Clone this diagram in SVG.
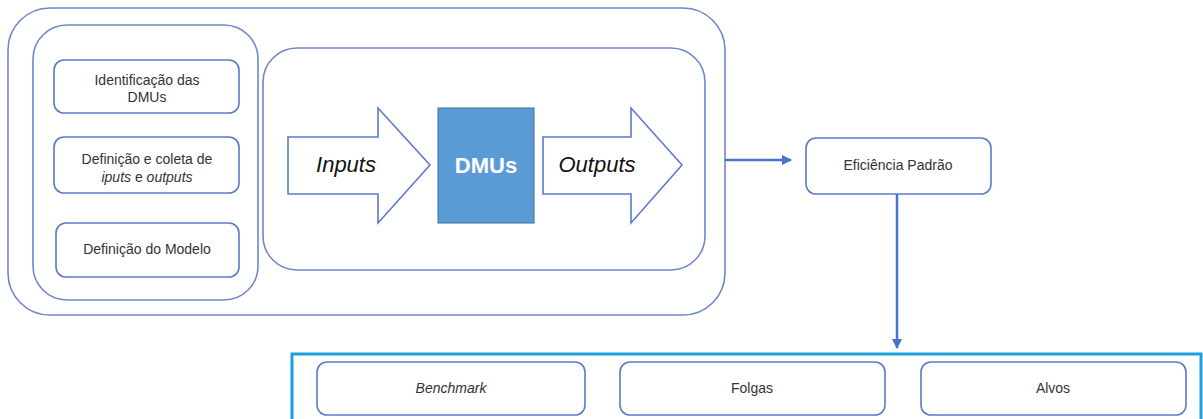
<svg xmlns="http://www.w3.org/2000/svg" width="1203" height="419" viewBox="0 0 1203 419">
<style>
.frame{fill:none;stroke:#6f86cc;stroke-width:1.6}
.box{fill:#fff;stroke:#5b7bc9;stroke-width:1.6}
.t{font-family:"Liberation Sans",Arial,sans-serif;font-size:14px;fill:#333;text-anchor:middle}
.big{font-family:"Liberation Sans",Arial,sans-serif;font-size:22px;fill:#111;text-anchor:middle;font-style:italic}
.conn{fill:none;stroke:#4a72c8;stroke-width:2.5}
.it{font-style:italic}
</style>
<defs>
<marker id="ah" viewBox="0 0 10 10" refX="9" refY="5" markerWidth="4" markerHeight="4" orient="auto">
<path d="M0,0 L10,5 L0,10 z" fill="#4a72c8"/>
</marker>
</defs>
<rect width="1203" height="419" fill="#fff"/>
<g id="outer">
<rect class="frame" x="8" y="8" width="717" height="307" rx="42"/>
</g>
<g id="left-panel">
<rect class="frame" x="33" y="25" width="225" height="275" rx="34"/>
</g>
<g id="ident">
<rect class="box" x="54" y="60" width="185" height="53" rx="10"/>
<text class="t" x="147" y="85">Identificação das</text>
<text class="t" x="147" y="102">DMUs</text>
</g>
<g id="coleta">
<rect class="box" x="54" y="137" width="185" height="56" rx="10"/>
<text class="t" x="147" y="164">Definição e coleta de</text>
<text class="t" x="147" y="182"><tspan class="it">iputs</tspan> e <tspan class="it">outputs</tspan></text>
</g>
<g id="modelo">
<rect class="box" x="56" y="223" width="183" height="54" rx="10"/>
<text class="t" x="147" y="254">Definição do Modelo</text>
</g>
<g id="process-panel">
<rect class="frame" x="263" y="48" width="442" height="222" rx="34"/>
</g>
<g id="inputs">
<path class="box" d="M288,137 L378,137 L378,108 L430,165 L378,223 L378,194 L288,194 Z"/>
<text class="big" x="346" y="172">Inputs</text>
</g>
<g id="dmus">
<rect x="438" y="108" width="96" height="115" fill="#5b9bd5" stroke="#41719c" stroke-width="1"/>
<text x="486" y="173" font-family="'Liberation Sans',Arial,sans-serif" font-size="22" font-weight="bold" fill="#fff" text-anchor="middle">DMUs</text>
</g>
<g id="outputs">
<path class="box" d="M543,137 L631,137 L631,108 L682,165 L631,223 L631,194 L543,194 Z"/>
<text class="big" x="597" y="172">Outputs</text>
</g>
<g id="eficiencia">
<rect class="box" x="806" y="138" width="185" height="56" rx="10"/>
<text class="t" x="898" y="170">Eficiência Padrão</text>
</g>
<g id="resultados">
<rect x="292" y="354" width="909" height="70" fill="none" stroke="#1aa0dc" stroke-width="3"/>
</g>
<g id="benchmark">
<rect class="box" x="317" y="362" width="268" height="53" rx="10"/>
<text class="t it" x="451" y="393">Benchmark</text>
</g>
<g id="folgas">
<rect class="box" x="620" y="362" width="265" height="53" rx="10"/>
<text class="t" x="752" y="393">Folgas</text>
</g>
<g id="alvos">
<rect class="box" x="921" y="362" width="265" height="53" rx="10"/>
<text class="t" x="1053" y="393">Alvos</text>
</g>
<g id="connectors">
<line class="conn" x1="725" y1="160" x2="791" y2="160" marker-end="url(#ah)"/>
<line class="conn" x1="897" y1="194" x2="897" y2="348" marker-end="url(#ah)"/>
</g>
</svg>
